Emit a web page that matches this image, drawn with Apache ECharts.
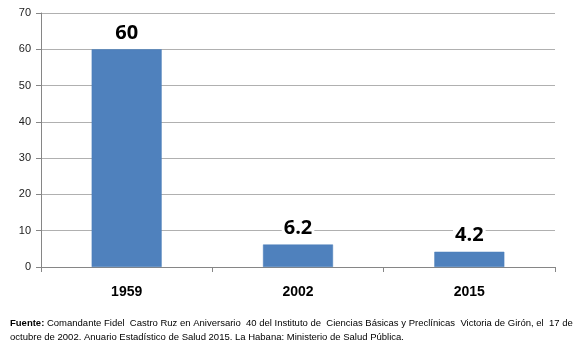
<!DOCTYPE html>
<html><head><meta charset="utf-8">
<script src="https://cdn.jsdelivr.net/npm/echarts@6/dist/echarts.min.js"></script>
<style>html,body{margin:0;padding:0;background:#fff}#c{width:580px;height:348px}</style>
</head><body><div id="c"></div>
<script>
var categories = ['1959', '2002', '2015'];
var values = [60, 6.2, 4.2];
var yTicks = [0, 10, 20, 30, 40, 50, 60, 70];
var noteLine1 = 'Comandante Fidel Castro Ruz en Aniversario 40 del Instituto de Ciencias Básicas y Preclínicas Victoria de Girón, el 17 de';
var noteLine2 = 'octubre de 2002. Anuario Estadístico de Salud 2015. La Habana: Ministerio de Salud Pública.';

var FONT = 'Liberation Sans';
var FS = 9.5;
// justify first line to target width by spreading spaces
function justify(prefixBold, line, target) {
  var ctx = document.createElement('canvas').getContext('2d');
  var words = line.split(' ');
  ctx.font = 'bold ' + FS + 'px "' + FONT + '"';
  var pw = ctx.measureText(prefixBold + ' ').width;
  ctx.font = FS + 'px "' + FONT + '"';
  var sp = ctx.measureText(' ').width;
  var base = ctx.measureText(words.join('')).width;
  var gaps = words.length - 1;
  var extraTotal = target - pw - base;
  var nSpaces = Math.max(gaps, Math.round(extraTotal / sp));
  var out = words[0];
  var used = 0;
  for (var i = 1; i < words.length; i++) {
    var k = Math.round(nSpaces * i / gaps) - used;
    used += k;
    out += new Array(k + 1).join(' ') + words[i];
  }
  return out;
}
var line1 = justify('Fuente:', noteLine1, 562);

var chart = echarts.init(document.getElementById('c'), null, {renderer: 'canvas'});
chart.setOption({
  animation: false,
  grid: {left: 41, right: 25, top: 13, bottom: 81},
  xAxis: {
    type: 'category', data: categories,
    axisLine: {lineStyle: {color: '#868686'}},
    axisTick: {show: true, length: 5, alignWithLabel: false, lineStyle: {color: '#868686'}},
    axisLabel: {color: '#000', fontSize: 14, fontWeight: 'bold', fontFamily: FONT, margin: 18}
  },
  yAxis: {
    type: 'value', min: yTicks[0], max: yTicks[yTicks.length - 1], interval: 10,
    axisLine: {show: true, lineStyle: {color: '#868686'}},
    axisTick: {show: true, length: 5, lineStyle: {color: '#868686'}},
    splitLine: {lineStyle: {color: '#b0b0b0', width: 1}},
    axisLabel: {color: '#222', fontSize: 11, fontFamily: FONT, margin: 10}
  },
  series: [{
    type: 'bar', data: values, barWidth: 70,
    itemStyle: {color: '#4f81bd', borderColor: '#4a7ebb', borderWidth: 0.5},
    label: {show: true, position: 'top', distance: 6, color: '#000', fontSize: 20, fontWeight: 'bold',
      fontFamily: 'Open Sans', backgroundColor: '#fff', padding: [0, 2]}
  }],
  graphic: [
    {type: 'text', left: 10, top: 318, style: {
      text: '{b|Fuente:} ' + line1,
      rich: {b: {fontWeight: 'bold', fontSize: FS, fontFamily: FONT, fill: '#000'}},
      fontSize: FS, fontFamily: FONT, fill: '#000'}},
    {type: 'text', left: 10, top: 332, style: {
      text: noteLine2, fontSize: FS, fontFamily: FONT, fill: '#000'}}
  ]
});
</script></body></html>
